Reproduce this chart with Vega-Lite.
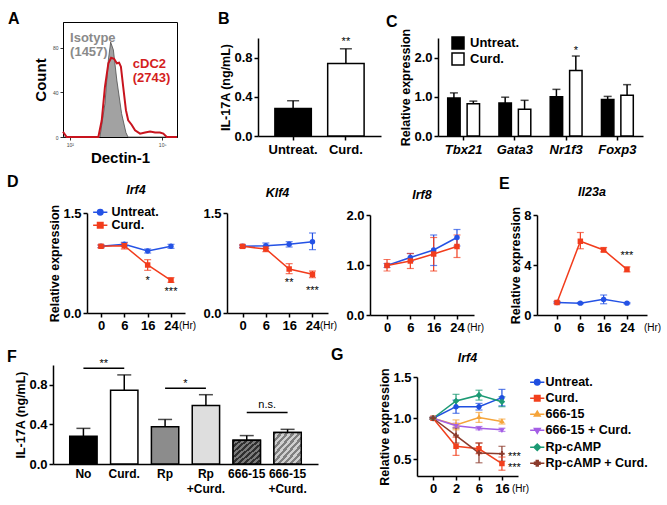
{
"$schema":"https://vega.github.io/schema/vega-lite/v6.json",
"background":"white",
"padding":{"left":7,"top":10,"right":0,"bottom":0},
"config":{
 "font":"Liberation Sans",
 "view":{"stroke":null},
 "axis":{"labelFontWeight":"bold","labelFontSize":13,"labelColor":"#000","domainColor":"#000","domainWidth":1.5,"tickColor":"#000","tickWidth":1.5,"tickSize":4,"grid":false,"titleFontWeight":"bold","titleFontSize":12.5,"titleColor":"#000","labelPadding":2,"titlePadding":1},
 "legend":{"labelColor":"#000","labelFontWeight":"bold","labelFontSize":13,"padding":0},
 "title":{"color":"#000","fontWeight":"bold"}
},
"resolve":{"scale":{"color":"independent","fill":"independent","shape":"independent"},"legend":{"color":"independent","fill":"independent","shape":"independent"}},
"spacing":191,"bounds":"flush",
"vconcat":[
 {"resolve":{"scale":{"color":"independent","fill":"independent","shape":"independent"},"legend":{"color":"independent","fill":"independent","shape":"independent"}},
  "hconcat":[
   {"width":1,"height":1,"data":{"values":[]},"mark":"point"},
   {"resolve":{"scale":{"color":"independent","fill":"independent","shape":"independent"},"legend":{"color":"independent","fill":"independent","shape":"independent"}},
    "hconcat":[
     {"width":114,"height":115,
      "title":{"text":"A","anchor":"start","frame":"group","dx":-55,"dy":5,"fontSize":16,"offset":0},
      "view":{"stroke":"#000","strokeWidth":1},
      "layer":[
        {"data":{"values":[{"x":0,"c":0},{"x":1.62,"c":0},{"x":1.84,"c":30},{"x":1.99,"c":69},{"x":2.09,"c":85},{"x":2.21,"c":78},{"x":2.36,"c":51},{"x":2.57,"c":21},{"x":2.76,"c":4},{"x":2.85,"c":0},{"x":5,"c":0}]},
         "mark":{"type":"area","color":"#7a7a7a","line":{"color":"#4d4d4d","strokeWidth":0.8}},
         "encoding":{"x":{"field":"x","type":"quantitative","title":"Dectin-1","scale":{"domain":[0,5],"nice":false},"axis":{"values":[0.3,1.5,2.85,4.35],"labelExpr":"datum.value < 1 ? '10²' : datum.value < 2 ? '10³' : datum.value < 3.5 ? '10⁴' : '10⁵'","labelFontSize":5,"labelFontWeight":"normal","labelColor":"#444","tickSize":3,"tickWidth":0.8,"domainWidth":1,"titleFontSize":15,"titlePadding":3}},
          "y":{"field":"c","type":"quantitative","title":"Count","scale":{"domain":[0,103],"nice":false},"axis":{"values":[0,20,40,60,80,100],"labelFontSize":5,"labelFontWeight":"normal","labelColor":"#444","tickSize":3,"tickWidth":0.8,"domainWidth":1,"titleFontSize":15,"titlePadding":4}}}},
        {"data":{"values":[{"x":0,"c":4.7},{"x":0.16,"c":0},{"x":1.55,"c":0},{"x":1.7,"c":15},{"x":1.84,"c":45},{"x":1.99,"c":66},{"x":2.11,"c":71},{"x":2.24,"c":70},{"x":2.36,"c":66},{"x":2.46,"c":66.5},{"x":2.54,"c":63},{"x":2.64,"c":45},{"x":2.76,"c":24},{"x":2.86,"c":15},{"x":3.01,"c":11},{"x":3.16,"c":6},{"x":3.38,"c":3},{"x":3.6,"c":4},{"x":3.82,"c":5},{"x":4.04,"c":4},{"x":4.25,"c":4},{"x":4.4,"c":3},{"x":4.55,"c":0},{"x":5,"c":0}]},
         "mark":{"type":"line","color":"#c8141e","strokeWidth":2},
         "encoding":{"x":{"field":"x","type":"quantitative","title":"Dectin-1"},"y":{"field":"c","type":"quantitative","title":"Count"}}},
        {"data":{"values":[{"label":"Isotype","x":0.31,"c":88.6,"g":"iso"},{"label":"(1457)","x":0.31,"c":76,"g":"iso"},{"label":"cDC2","x":3.06,"c":65.8,"g":"cdc2"},{"label":"(2743)","x":3.06,"c":52.8,"g":"cdc2"}]},
         "mark":{"type":"text","align":"left","baseline":"middle","fontSize":13,"fontWeight":"bold"},
         "encoding":{"x":{"field":"x","type":"quantitative","title":"Dectin-1"},"y":{"field":"c","type":"quantitative","title":"Count"},"text":{"field":"label"},"color":{"field":"g","type":"nominal","scale":{"domain":["iso","cdc2"],"range":["#8a8a8a","#d41e1e"]},"legend":null}}}
      ]},
     {"resolve":{"scale":{"color":"independent","fill":"independent","shape":"independent"},"legend":{"color":"independent","fill":"independent","shape":"independent"}},
      "hconcat":[
       {"width":123,"height":114,
        "title":{"text":"B","anchor":"start","frame":"group","dx":-40,"dy":5,"fontSize":16,"offset":0},
        "layer":[
          {"data":{"values":[{"g":"Untreat.","v":0.28,"hi":0.36},{"g":"Curd.","v":0.74,"hi":0.89}]},
           "encoding":{"x":{"field":"g","type":"nominal","sort":null,"scale":{"domain":["Untreat.","Curd."],"paddingInner":0.31,"paddingOuter":0.32},"axis":{"title":null,"labelAngle":0,"labelPadding":3}}},
           "layer":[
             {"mark":{"type":"rule","color":"#000","strokeWidth":1.5},"encoding":{"y":{"field":"v","type":"quantitative","title":"IL-17A (ng/mL)"},"y2":{"field":"hi"}}},
             {"mark":{"type":"tick","color":"#000","thickness":1.5,"size":12},"encoding":{"y":{"field":"hi","type":"quantitative","title":"IL-17A (ng/mL)"}}},
             {"mark":{"type":"bar","stroke":"#000","strokeWidth":1.5},"encoding":{"y":{"field":"v","type":"quantitative","title":"IL-17A (ng/mL)","scale":{"domain":[0,1],"range":[114,16],"nice":false,"zero":false},"axis":{"values":[0,0.2,0.4,0.6,0.8,1],"format":".1f"}},"fill":{"field":"g","type":"nominal","scale":{"domain":["Untreat.","Curd."],"range":["#000","#fff"]},"legend":null}}}
           ]},
          {"data":{"values":[{"g":"Curd.","y":0.96,"s":"**"}]},
           "mark":{"type":"text","fontSize":11,"baseline":"middle","color":"#000"},
           "encoding":{"x":{"field":"g","type":"nominal","sort":null},"y":{"field":"y","type":"quantitative","title":"IL-17A (ng/mL)"},"text":{"field":"s"}}}
        ]},
       {"width":205,"height":114,
        "title":{"text":"C","anchor":"start","frame":"group","dx":-52,"dy":8,"fontSize":16,"offset":0},
        "layer":[
          {"data":{"values":[
             {"gene":"Tbx21","grp":"Untreat.","v":0.97,"hi":1.1},{"gene":"Tbx21","grp":"Curd.","v":0.82,"hi":0.89},
             {"gene":"Gata3","grp":"Untreat.","v":0.84,"hi":0.99},{"gene":"Gata3","grp":"Curd.","v":0.68,"hi":0.91},
             {"gene":"Nr1f3","grp":"Untreat.","v":1.0,"hi":1.19},{"gene":"Nr1f3","grp":"Curd.","v":1.67,"hi":2.04},
             {"gene":"Foxp3","grp":"Untreat.","v":0.93,"hi":1.01},{"gene":"Foxp3","grp":"Curd.","v":1.04,"hi":1.31}]},
           "encoding":{
             "x":{"field":"gene","type":"nominal","sort":null,"scale":{"domain":["Tbx21","Gata3","Nr1f3","Foxp3"],"paddingInner":0,"paddingOuter":0},"axis":{"title":null,"labelAngle":0,"labelFontStyle":"italic","labelPadding":3}},
             "xOffset":{"field":"grp","type":"nominal","sort":null,"scale":{"domain":["Untreat.","Curd."],"paddingInner":0.36,"paddingOuter":0.5}}},
           "layer":[
             {"mark":{"type":"rule","color":"#000","strokeWidth":1.5},"encoding":{"y":{"field":"v","type":"quantitative","title":"Relative expression"},"y2":{"field":"hi"}}},
             {"mark":{"type":"tick","color":"#000","thickness":1.5,"size":8},"encoding":{"y":{"field":"hi","type":"quantitative","title":"Relative expression"}}},
             {"mark":{"type":"bar","stroke":"#000","strokeWidth":1.5},"encoding":{"y":{"field":"v","type":"quantitative","title":"Relative expression","scale":{"domain":[0,2.5],"range":[114,16],"nice":false,"zero":false},"axis":{"values":[0,0.5,1,1.5,2,2.5],"format":".1f"}},
               "fill":{"field":"grp","type":"nominal","scale":{"domain":["Untreat.","Curd."],"range":["#000","#fff"]},"legend":{"orient":"none","legendX":13,"legendY":14,"title":null,"symbolType":"square","symbolSize":144,"symbolStrokeColor":"#000","symbolStrokeWidth":1.5,"labelFontSize":13,"rowPadding":-4,"labelOffset":5}}}}
           ]},
          {"data":{"values":[{"gene":"Nr1f3","grp":"Curd.","y":2.17,"s":"*"}]},
           "mark":{"type":"text","fontSize":11,"baseline":"middle","color":"#000"},
           "encoding":{"x":{"field":"gene","type":"nominal","sort":null},"xOffset":{"field":"grp","type":"nominal","sort":null},"y":{"field":"y","type":"quantitative","title":"Relative expression"},"text":{"field":"s"}}}
        ]}
     ],"spacing":57,"bounds":"flush"}
   ],"spacing":81,"bounds":"flush"}
 ],"spacing":9,"bounds":"flush"},
 {"resolve":{"scale":{"color":"independent","fill":"independent","shape":"independent"},"legend":{"color":"independent","fill":"independent","shape":"independent"}},
  "vconcat":[
   {"resolve":{"scale":{"color":"independent","fill":"independent","shape":"independent"},"legend":{"color":"independent","fill":"independent","shape":"independent"}},
    "hconcat":[
     {"width":1,"height":1,"data":{"values":[]},"mark":"point"},
     {"resolve":{"scale":{"color":"independent","fill":"independent","shape":"independent"},"legend":{"color":"independent","fill":"independent","shape":"independent"}},
      "hconcat":[
       {"title":{"text":"D","anchor":"start","frame":"group","dx":-80,"dy":6.5,"fontSize":16,"offset":0},
        "resolve":{"scale":{"color":"independent","fill":"independent","shape":"independent"},"legend":{"color":"independent","fill":"independent","shape":"independent"}},
        "hconcat":[
         {"width":98,"height":100,
          "title":{"text":"Irf4","fontStyle":"italic","fontSize":12.5,"offset":8},
          "layer":[
            {"data":{"values":[
              {"t":"0","grp":"Untreat.","v":1.0,"lo":0.98,"hi":1.02},{"t":"6","grp":"Untreat.","v":1.03,"lo":1.0,"hi":1.06},{"t":"16","grp":"Untreat.","v":0.93,"lo":0.9,"hi":0.96},{"t":"24","grp":"Untreat.","v":1.0,"lo":0.97,"hi":1.03},
              {"t":"0","grp":"Curd.","v":1.0,"lo":0.98,"hi":1.02},{"t":"6","grp":"Curd.","v":1.01,"lo":0.96,"hi":1.05},{"t":"16","grp":"Curd.","v":0.72,"lo":0.64,"hi":0.8},{"t":"24","grp":"Curd.","v":0.49,"lo":0.46,"hi":0.53}]},
             "encoding":{
               "x":{"field":"t","type":"ordinal","sort":["0","6","16","24"],"scale":{"type":"point","padding":0.6},"axis":{"title":"(Hr)","labelAngle":0,"titleX":100,"titleY":12,"titleBaseline":"middle","titleAlign":"center","titleFontSize":10,"titleFontWeight":"normal"}},
               "color":{"field":"grp","type":"nominal","scale":{"domain":["Untreat.","Curd."],"range":["#2452e5","#f23c1c"]},"legend":{"orient":"none","legendX":7,"legendY":-7,"title":null,"labelFontSize":12.5,"symbolSize":30,"rowPadding":0,"labelOffset":5,"encode":{"symbols":{"update":{"stroke":{"signal":"datum.value === 'Untreat.' ? '#2452e5' : '#f23c1c'"},"strokeWidth":{"value":1.5},"strokeOpacity":{"value":1}}}}}}},
             "layer":[
               {"mark":{"type":"rule","strokeWidth":1.2},"encoding":{"y":{"field":"lo","type":"quantitative","title":"Relative expression"},"y2":{"field":"hi"}}},
               {"mark":{"type":"tick","thickness":1.2,"size":7},"encoding":{"y":{"field":"lo","type":"quantitative","title":"Relative expression"}}},
               {"mark":{"type":"tick","thickness":1.2,"size":7},"encoding":{"y":{"field":"hi","type":"quantitative","title":"Relative expression"}}},
               {"mark":{"type":"line","strokeWidth":1.5},"encoding":{"y":{"field":"v","type":"quantitative","title":"Relative expression","scale":{"domain":[0,1.5],"nice":false,"zero":false},"axis":{"values":[0,0.5,1,1.5],"format":".1f"}}}},
               {"mark":{"type":"point","filled":true,"size":30,"opacity":1,"strokeWidth":0},"encoding":{"y":{"field":"v","type":"quantitative","title":"Relative expression"},"shape":{"field":"grp","type":"nominal","scale":{"domain":["Untreat.","Curd."],"range":["M-1,0A1,1,0,1,1,1,0A1,1,0,1,1,-1,0ZM-2.6,0H2.6","M-1,-1H1V1H-1ZM-2.6,0H2.6"]},"legend":{"orient":"none","legendX":7,"legendY":-7,"title":null,"labelFontSize":12.5,"symbolSize":30,"rowPadding":0,"labelOffset":5,"encode":{"symbols":{"update":{"stroke":{"signal":"datum.value === 'Untreat.' ? '#2452e5' : '#f23c1c'"},"strokeWidth":{"value":1.5},"strokeOpacity":{"value":1}}}}}}}}
             ]},
            {"data":{"values":[{"t":"16","y":0.475,"s":"*"},{"t":"24","y":0.315,"s":"***"}]},
             "mark":{"type":"text","fontSize":11,"baseline":"middle","color":"#000"},
             "encoding":{"x":{"field":"t","type":"ordinal","sort":["0","6","16","24"]},"y":{"field":"y","type":"quantitative","title":"Relative expression"},"text":{"field":"s"}}}
          ]},
         {"width":101,"height":100,
          "title":{"text":"Klf4","fontStyle":"italic","fontSize":12.5,"offset":8},
          "layer":[
            {"data":{"values":[
              {"t":"0","grp":"Untreat.","v":1.0,"lo":0.98,"hi":1.02},{"t":"6","grp":"Untreat.","v":1.01,"lo":0.97,"hi":1.05},{"t":"16","grp":"Untreat.","v":1.03,"lo":0.99,"hi":1.07},{"t":"24","grp":"Untreat.","v":1.07,"lo":0.95,"hi":1.2},
              {"t":"0","grp":"Curd.","v":1.0,"lo":0.98,"hi":1.02},{"t":"6","grp":"Curd.","v":0.96,"lo":0.92,"hi":1.0},{"t":"16","grp":"Curd.","v":0.66,"lo":0.59,"hi":0.74},{"t":"24","grp":"Curd.","v":0.58,"lo":0.53,"hi":0.63}]},
             "encoding":{
               "x":{"field":"t","type":"ordinal","sort":["0","6","16","24"],"scale":{"type":"point","padding":0.667},"axis":{"title":"(Hr)","labelAngle":0,"titleX":101,"titleY":12,"titleBaseline":"middle","titleAlign":"center","titleFontSize":10,"titleFontWeight":"normal"}},
               "color":{"field":"grp","type":"nominal","scale":{"domain":["Untreat.","Curd."],"range":["#2452e5","#f23c1c"]},"legend":null}},
             "layer":[
               {"mark":{"type":"rule","strokeWidth":1.2},"encoding":{"y":{"field":"lo","type":"quantitative","title":null},"y2":{"field":"hi"}}},
               {"mark":{"type":"tick","thickness":1.2,"size":7},"encoding":{"y":{"field":"lo","type":"quantitative","title":null}}},
               {"mark":{"type":"tick","thickness":1.2,"size":7},"encoding":{"y":{"field":"hi","type":"quantitative","title":null}}},
               {"mark":{"type":"line","strokeWidth":1.5},"encoding":{"y":{"field":"v","type":"quantitative","title":null,"scale":{"domain":[0,1.5],"nice":false,"zero":false},"axis":{"values":[0,0.5,1,1.5],"format":".1f"}}}},
               {"mark":{"type":"point","filled":true,"size":30,"opacity":1},"encoding":{"y":{"field":"v","type":"quantitative","title":null},"shape":{"field":"grp","type":"nominal","scale":{"domain":["Untreat.","Curd."],"range":["circle","square"]},"legend":null}}}
             ]},
            {"data":{"values":[{"t":"16","y":0.445,"s":"**"},{"t":"24","y":0.325,"s":"***"}]},
             "mark":{"type":"text","fontSize":11,"baseline":"middle","color":"#000"},
             "encoding":{"x":{"field":"t","type":"ordinal","sort":["0","6","16","24"]},"y":{"field":"y","type":"quantitative","title":null},"text":{"field":"s"}}}
          ]},
         {"width":104,"height":102,
          "title":{"text":"Irf8","fontStyle":"italic","fontSize":12.5,"offset":8},
          "data":{"values":[
            {"t":"0","grp":"Untreat.","v":0.99,"lo":0.95,"hi":1.03},{"t":"6","grp":"Untreat.","v":1.15,"lo":1.07,"hi":1.23},{"t":"16","grp":"Untreat.","v":1.3,"lo":0.99,"hi":1.6},{"t":"24","grp":"Untreat.","v":1.55,"lo":1.38,"hi":1.71},
            {"t":"0","grp":"Curd.","v":0.99,"lo":0.88,"hi":1.11},{"t":"6","grp":"Curd.","v":1.08,"lo":0.93,"hi":1.23},{"t":"16","grp":"Curd.","v":1.22,"lo":0.88,"hi":1.55},{"t":"24","grp":"Curd.","v":1.37,"lo":1.15,"hi":1.6}]},
          "encoding":{
            "x":{"field":"t","type":"ordinal","sort":["0","6","16","24"],"scale":{"type":"point","padding":0.73},"axis":{"title":"(Hr)","labelAngle":0,"titleX":105,"titleY":12,"titleBaseline":"middle","titleAlign":"center","titleFontSize":10,"titleFontWeight":"normal"}},
            "color":{"field":"grp","type":"nominal","scale":{"domain":["Untreat.","Curd."],"range":["#2452e5","#f23c1c"]},"legend":null}},
          "layer":[
            {"mark":{"type":"rule","strokeWidth":1.2},"encoding":{"y":{"field":"lo","type":"quantitative","title":null},"y2":{"field":"hi"}}},
            {"mark":{"type":"tick","thickness":1.2,"size":7},"encoding":{"y":{"field":"lo","type":"quantitative","title":null}}},
            {"mark":{"type":"tick","thickness":1.2,"size":7},"encoding":{"y":{"field":"hi","type":"quantitative","title":null}}},
            {"mark":{"type":"line","strokeWidth":1.5},"encoding":{"y":{"field":"v","type":"quantitative","title":null,"scale":{"domain":[0,2],"range":[102,2],"nice":false,"zero":false},"axis":{"values":[0,0.5,1,1.5,2],"format":".1f"}}}},
            {"mark":{"type":"point","filled":true,"size":30,"opacity":1},"encoding":{"y":{"field":"v","type":"quantitative","title":null},"shape":{"field":"grp","type":"nominal","scale":{"domain":["Untreat.","Curd."],"range":["circle","square"]},"legend":null}}}
          ]}
        ],"spacing":42,"bounds":"flush"},
       {"title":{"text":"E","anchor":"start","frame":"group","dx":-38,"dy":6,"fontSize":16,"offset":0},
        "hconcat":[
         {"width":110,"height":102,
          "title":{"text":"Il23a","fontStyle":"italic","fontSize":12.5,"offset":8},
          "layer":[
            {"data":{"values":[
              {"t":"0","grp":"Untreat.","v":1.0,"lo":0.95,"hi":1.05},{"t":"6","grp":"Untreat.","v":0.95,"lo":0.9,"hi":1.0},{"t":"16","grp":"Untreat.","v":1.25,"lo":0.9,"hi":1.6},{"t":"24","grp":"Untreat.","v":0.95,"lo":0.9,"hi":1.0},
              {"t":"0","grp":"Curd.","v":1.0,"lo":0.9,"hi":1.1},{"t":"6","grp":"Curd.","v":5.9,"lo":5.3,"hi":6.6},{"t":"16","grp":"Curd.","v":5.2,"lo":5.05,"hi":5.4},{"t":"24","grp":"Curd.","v":3.65,"lo":3.45,"hi":3.85}]},
             "encoding":{
               "x":{"field":"t","type":"ordinal","sort":["0","6","16","24"],"scale":{"type":"point","padding":0.86},"axis":{"title":"(Hr)","labelAngle":0,"titleX":115,"titleY":12,"titleBaseline":"middle","titleAlign":"center","titleFontSize":10,"titleFontWeight":"normal"}},
               "color":{"field":"grp","type":"nominal","scale":{"domain":["Untreat.","Curd."],"range":["#2452e5","#f23c1c"]},"legend":null}},
             "layer":[
               {"mark":{"type":"rule","strokeWidth":1.2},"encoding":{"y":{"field":"lo","type":"quantitative","title":"Relative expression"},"y2":{"field":"hi"}}},
               {"mark":{"type":"tick","thickness":1.2,"size":7},"encoding":{"y":{"field":"lo","type":"quantitative","title":"Relative expression"}}},
               {"mark":{"type":"tick","thickness":1.2,"size":7},"encoding":{"y":{"field":"hi","type":"quantitative","title":"Relative expression"}}},
               {"mark":{"type":"line","strokeWidth":1.5},"encoding":{"y":{"field":"v","type":"quantitative","title":"Relative expression","scale":{"domain":[0,8],"range":[102,2],"nice":false,"zero":false},"axis":{"values":[0,2,4,6,8],"format":"d"}}}},
               {"mark":{"type":"point","filled":true,"size":30,"opacity":1},"encoding":{"y":{"field":"v","type":"quantitative","title":"Relative expression"},"shape":{"field":"grp","type":"nominal","scale":{"domain":["Untreat.","Curd."],"range":["circle","square"]},"legend":null}}}
             ]},
            {"data":{"values":[{"t":"24","y":4.72,"s":"***"}]},
             "mark":{"type":"text","fontSize":11,"baseline":"middle","color":"#000"},
             "encoding":{"x":{"field":"t","type":"ordinal","sort":["0","6","16","24"]},"y":{"field":"y","type":"quantitative","title":"Relative expression"},"text":{"field":"s"}}}
          ]}
        ],"bounds":"flush"}
     ],"spacing":450,"bounds":"flush"}
   ],"spacing":33,"bounds":"flush"},
   {"resolve":{"scale":{"color":"independent","fill":"independent","shape":"independent"},"legend":{"color":"independent","fill":"independent","shape":"independent"}},
    "hconcat":[
     {"width":265,"height":99,
      "title":{"text":"F","anchor":"start","frame":"group","dx":-46,"dy":7,"fontSize":16,"offset":0},
      "layer":[
        {"data":{"values":[{"g":"No","v":0.28,"hi":0.36},{"g":"Curd.","v":0.745,"hi":0.9},{"g":"Rp","v":0.377,"hi":0.45},{"g":"Rp\n+Curd.","v":0.59,"hi":0.7},{"g":"666-15","v":0.24,"hi":0.287},{"g":"666-15\n+Curd.","v":0.317,"hi":0.35}]},
         "encoding":{"x":{"field":"g","type":"nominal","sort":null,"scale":{"domain":["No","Curd.","Rp","Rp\n+Curd.","666-15","666-15\n+Curd."],"paddingInner":0.33,"paddingOuter":0.41},"axis":{"title":null,"labelAngle":0,"ticks":false,"labelExpr":"split(datum.label, '\\n')","labelLineHeight":15,"labelPadding":4,"labelFontSize":12}}},
         "layer":[
           {"mark":{"type":"rule","color":"#000","strokeWidth":1.5},"encoding":{"y":{"field":"v","type":"quantitative","title":"IL-17A (ng/mL)"},"y2":{"field":"hi"}}},
           {"mark":{"type":"tick","color":"#000","thickness":1.5,"size":14},"encoding":{"y":{"field":"hi","type":"quantitative","title":"IL-17A (ng/mL)"}}},
           {"mark":{"type":"bar","stroke":"#000","strokeWidth":1.5},"encoding":{"y":{"field":"v","type":"quantitative","title":"IL-17A (ng/mL)","scale":{"domain":[0,1],"nice":false,"zero":false},"axis":{"values":[0,0.2,0.4,0.6,0.8,1],"format":".1f"}},"fill":{"field":"g","type":"nominal","scale":{"domain":["No","Curd.","Rp","Rp\n+Curd.","666-15","666-15\n+Curd."],"range":["#000000","#ffffff","#8c8c8c","#dedede","#555555","#a0a0a0"]},"legend":null}}},
           {"transform":[{"filter":{"field":"g","equal":"666-15"}}],
            "mark":{"type":"bar","stroke":"#000","strokeWidth":1.5,"fill":{"gradient":"linear","x1":0,"y1":0,"x2":1,"y2":1,"stops":[{"offset":0,"color":"#2f2f2f"},{"offset":0.0556,"color":"#2f2f2f"},{"offset":0.0556,"color":"#7a7a7a"},{"offset":0.1111,"color":"#7a7a7a"},{"offset":0.1111,"color":"#2f2f2f"},{"offset":0.1667,"color":"#2f2f2f"},{"offset":0.1667,"color":"#7a7a7a"},{"offset":0.2222,"color":"#7a7a7a"},{"offset":0.2222,"color":"#2f2f2f"},{"offset":0.2778,"color":"#2f2f2f"},{"offset":0.2778,"color":"#7a7a7a"},{"offset":0.3333,"color":"#7a7a7a"},{"offset":0.3333,"color":"#2f2f2f"},{"offset":0.3889,"color":"#2f2f2f"},{"offset":0.3889,"color":"#7a7a7a"},{"offset":0.4444,"color":"#7a7a7a"},{"offset":0.4444,"color":"#2f2f2f"},{"offset":0.5,"color":"#2f2f2f"},{"offset":0.5,"color":"#7a7a7a"},{"offset":0.5556,"color":"#7a7a7a"},{"offset":0.5556,"color":"#2f2f2f"},{"offset":0.6111,"color":"#2f2f2f"},{"offset":0.6111,"color":"#7a7a7a"},{"offset":0.6667,"color":"#7a7a7a"},{"offset":0.6667,"color":"#2f2f2f"},{"offset":0.7222,"color":"#2f2f2f"},{"offset":0.7222,"color":"#7a7a7a"},{"offset":0.7778,"color":"#7a7a7a"},{"offset":0.7778,"color":"#2f2f2f"},{"offset":0.8333,"color":"#2f2f2f"},{"offset":0.8333,"color":"#7a7a7a"},{"offset":0.8889,"color":"#7a7a7a"},{"offset":0.8889,"color":"#2f2f2f"},{"offset":0.9444,"color":"#2f2f2f"},{"offset":0.9444,"color":"#7a7a7a"},{"offset":1,"color":"#7a7a7a"}]}},
            "encoding":{"y":{"field":"v","type":"quantitative","title":"IL-17A (ng/mL)"}}},
           {"transform":[{"filter":{"field":"g","equal":"666-15\n+Curd."}}],
            "mark":{"type":"bar","stroke":"#000","strokeWidth":1.5,"fill":{"gradient":"linear","x1":0,"y1":0,"x2":1,"y2":1,"stops":[{"offset":0,"color":"#7f7f7f"},{"offset":0.0556,"color":"#7f7f7f"},{"offset":0.0556,"color":"#cfcfcf"},{"offset":0.1111,"color":"#cfcfcf"},{"offset":0.1111,"color":"#7f7f7f"},{"offset":0.1667,"color":"#7f7f7f"},{"offset":0.1667,"color":"#cfcfcf"},{"offset":0.2222,"color":"#cfcfcf"},{"offset":0.2222,"color":"#7f7f7f"},{"offset":0.2778,"color":"#7f7f7f"},{"offset":0.2778,"color":"#cfcfcf"},{"offset":0.3333,"color":"#cfcfcf"},{"offset":0.3333,"color":"#7f7f7f"},{"offset":0.3889,"color":"#7f7f7f"},{"offset":0.3889,"color":"#cfcfcf"},{"offset":0.4444,"color":"#cfcfcf"},{"offset":0.4444,"color":"#7f7f7f"},{"offset":0.5,"color":"#7f7f7f"},{"offset":0.5,"color":"#cfcfcf"},{"offset":0.5556,"color":"#cfcfcf"},{"offset":0.5556,"color":"#7f7f7f"},{"offset":0.6111,"color":"#7f7f7f"},{"offset":0.6111,"color":"#cfcfcf"},{"offset":0.6667,"color":"#cfcfcf"},{"offset":0.6667,"color":"#7f7f7f"},{"offset":0.7222,"color":"#7f7f7f"},{"offset":0.7222,"color":"#cfcfcf"},{"offset":0.7778,"color":"#cfcfcf"},{"offset":0.7778,"color":"#7f7f7f"},{"offset":0.8333,"color":"#7f7f7f"},{"offset":0.8333,"color":"#cfcfcf"},{"offset":0.8889,"color":"#cfcfcf"},{"offset":0.8889,"color":"#7f7f7f"},{"offset":0.9444,"color":"#7f7f7f"},{"offset":0.9444,"color":"#cfcfcf"},{"offset":1,"color":"#cfcfcf"}]}},
            "encoding":{"y":{"field":"v","type":"quantitative","title":"IL-17A (ng/mL)"}}}
         ]},
        {"data":{"values":[{"a":"No","b":"Curd.","y":0.966,"ty":1.01,"s":"**"},{"a":"Rp","b":"Rp\n+Curd.","y":0.764,"ty":0.81,"s":"*"},{"a":"666-15","b":"666-15\n+Curd.","y":0.519,"ty":0.6,"s":"n.s."}]},
         "layer":[
           {"mark":{"type":"rule","color":"#000","strokeWidth":1.5},"encoding":{"x":{"field":"a","type":"nominal","bandPosition":0.5},"x2":{"field":"b","bandPosition":0.5},"y":{"field":"y","type":"quantitative","title":"IL-17A (ng/mL)"}}},
           {"mark":{"type":"text","fontSize":11,"baseline":"middle","color":"#000"},"encoding":{"x":{"field":"a","type":"nominal","bandPosition":1.245},"y":{"field":"ty","type":"quantitative","title":"IL-17A (ng/mL)"},"text":{"field":"s"}}}
         ]}
      ]},
     {"title":{"text":"G","anchor":"start","frame":"group","dx":-86,"dy":11,"fontSize":16,"offset":0},
      "hconcat":[
       {"width":101,"height":111,
        "title":{"text":"Irf4","fontStyle":"italic","fontSize":12.5,"offset":1},
        "layer":[
          {"data":{"values":[
            {"t":"0","grp":"Untreat.","v":1.0,"lo":0.99,"hi":1.01},{"t":"2","grp":"Untreat.","v":1.14,"lo":1.06,"hi":1.22},{"t":"6","grp":"Untreat.","v":1.14,"lo":1.1,"hi":1.18},{"t":"16","grp":"Untreat.","v":1.25,"lo":1.15,"hi":1.35},
            {"t":"0","grp":"Curd.","v":1.0,"lo":0.99,"hi":1.01},{"t":"2","grp":"Curd.","v":0.66,"lo":0.55,"hi":0.77},{"t":"6","grp":"Curd.","v":0.63,"lo":0.57,"hi":0.7},{"t":"16","grp":"Curd.","v":0.45,"lo":0.37,"hi":0.53},
            {"t":"0","grp":"666-15","v":1.0,"lo":0.99,"hi":1.01},{"t":"2","grp":"666-15","v":0.92,"lo":0.86,"hi":0.98},{"t":"6","grp":"666-15","v":1.01,"lo":0.95,"hi":1.07},{"t":"16","grp":"666-15","v":0.96,"lo":0.93,"hi":0.99},
            {"t":"0","grp":"666-15 + Curd.","v":1.0,"lo":0.99,"hi":1.01},{"t":"2","grp":"666-15 + Curd.","v":0.91,"lo":0.89,"hi":0.94},{"t":"6","grp":"666-15 + Curd.","v":0.88,"lo":0.86,"hi":0.9},{"t":"16","grp":"666-15 + Curd.","v":0.86,"lo":0.84,"hi":0.88},
            {"t":"0","grp":"Rp-cAMP","v":1.0,"lo":0.99,"hi":1.01},{"t":"2","grp":"Rp-cAMP","v":1.21,"lo":1.13,"hi":1.29},{"t":"6","grp":"Rp-cAMP","v":1.28,"lo":1.22,"hi":1.34},{"t":"16","grp":"Rp-cAMP","v":1.2,"lo":1.14,"hi":1.26},
            {"t":"0","grp":"Rp-cAMP + Curd.","v":1.0,"lo":0.99,"hi":1.01},{"t":"2","grp":"Rp-cAMP + Curd.","v":0.79,"lo":0.7,"hi":0.88},{"t":"6","grp":"Rp-cAMP + Curd.","v":0.58,"lo":0.46,"hi":0.7},{"t":"16","grp":"Rp-cAMP + Curd.","v":0.57,"lo":0.48,"hi":0.66}]},
           "encoding":{
             "x":{"field":"t","type":"ordinal","sort":["0","2","6","16"],"scale":{"type":"point","padding":0.7},"axis":{"title":"(Hr)","labelAngle":0,"titleX":103,"titleY":12,"titleBaseline":"middle","titleAlign":"center","titleFontSize":10,"titleFontWeight":"normal"}},
             "color":{"field":"grp","type":"nominal","scale":{"domain":["Untreat.","Curd.","666-15","666-15 + Curd.","Rp-cAMP","Rp-cAMP + Curd."],"range":["#1f4fe0","#f2401d","#f5a43a","#a45ee5","#1c9a74","#8b3b2c"]},"legend":{"orient":"none","legendX":114,"legendY":11,"title":null,"labelFontSize":12.5,"symbolSize":30,"rowPadding":3,"labelOffset":2,"encode":{"symbols":{"update":{"stroke":{"signal":"datum.value === 'Untreat.' ? '#1f4fe0' : datum.value === 'Curd.' ? '#f2401d' : datum.value === '666-15' ? '#f5a43a' : datum.value === '666-15 + Curd.' ? '#a45ee5' : datum.value === 'Rp-cAMP' ? '#1c9a74' : '#8b3b2c'"},"strokeWidth":{"value":1.5},"strokeOpacity":{"value":1}}}}}}},
           "layer":[
             {"mark":{"type":"rule","strokeWidth":1.2},"encoding":{"y":{"field":"lo","type":"quantitative","title":"Relative expression"},"y2":{"field":"hi"}}},
             {"mark":{"type":"tick","thickness":1.2,"size":7},"encoding":{"y":{"field":"lo","type":"quantitative","title":"Relative expression"}}},
             {"mark":{"type":"tick","thickness":1.2,"size":7},"encoding":{"y":{"field":"hi","type":"quantitative","title":"Relative expression"}}},
             {"mark":{"type":"line","strokeWidth":1.5},"encoding":{"y":{"field":"v","type":"quantitative","title":"Relative expression","scale":{"domain":[0.3,1.5],"range":[111,12],"nice":false,"zero":false},"axis":{"values":[0.5,1,1.5],"format":".1f"}}}},
             {"mark":{"type":"point","filled":true,"size":30,"opacity":1,"strokeWidth":0},"encoding":{"y":{"field":"v","type":"quantitative","title":"Relative expression"},"shape":{"field":"grp","type":"nominal","scale":{"domain":["Untreat.","Curd.","666-15","666-15 + Curd.","Rp-cAMP","Rp-cAMP + Curd."],"range":["M-1,0A1,1,0,1,1,1,0A1,1,0,1,1,-1,0ZM-2.6,0H2.6","M-1,-1H1V1H-1ZM-2.6,0H2.6","M0,-1.15L1.05,0.6H-1.05ZM-2.6,0H2.6","M0,1.15L1.05,-0.6H-1.05ZM-2.6,0H2.6","M0,-1.2L1.2,0L0,1.2L-1.2,0ZM-2.6,0H2.6","M-1,-0.35H-0.35V-1H0.35V-0.35H1V0.35H0.35V1H-0.35V0.35H-1ZM-2.6,0H2.6"]},"legend":{"orient":"none","legendX":114,"legendY":11,"title":null,"labelFontSize":12.5,"symbolSize":30,"rowPadding":3,"labelOffset":2,"encode":{"symbols":{"update":{"stroke":{"signal":"datum.value === 'Untreat.' ? '#1f4fe0' : datum.value === 'Curd.' ? '#f2401d' : datum.value === '666-15' ? '#f5a43a' : datum.value === '666-15 + Curd.' ? '#a45ee5' : datum.value === 'Rp-cAMP' ? '#1c9a74' : '#8b3b2c'"},"strokeWidth":{"value":1.5},"strokeOpacity":{"value":1}}}}}}}}
           ]},
          {"data":{"values":[{"t":"16","y":0.53,"s":"***"},{"t":"16","y":0.4,"s":"***"}]},
           "mark":{"type":"text","fontSize":11,"baseline":"middle","align":"left","dx":6,"color":"#000"},
           "encoding":{"x":{"field":"t","type":"ordinal","sort":["0","2","6","16"]},"y":{"field":"y","type":"quantitative","title":"Relative expression"},"text":{"field":"s"}}}
        ]}
      ],"bounds":"flush"}
   ],"spacing":99,"bounds":"flush"}
 ],"spacing":152,"bounds":"flush"}
]
}
